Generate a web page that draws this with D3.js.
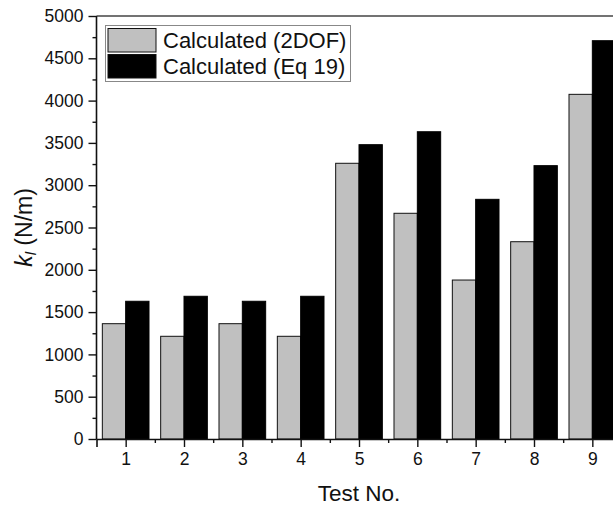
<!DOCTYPE html>
<html>
<head>
<meta charset="utf-8">
<script src="https://cdn.jsdelivr.net/npm/d3@7"></script>
<style>
    body { margin: 0; background: #fff; overflow: hidden; }
    svg { display: block; font-family: "Liberation Sans", Arial, sans-serif; }
</style>
</head>
<body>
<svg id="chart"></svg>
<script>
const tests = [1, 2, 3, 4, 5, 6, 7, 8, 9];
const calc2DOF = [1363, 1214, 1363, 1214, 3259, 2668, 1879, 2332, 4074];
const calcEq19 = [1628, 1687, 1628, 1687, 3479, 3632, 2833, 3231, 4708];
const yTicks = [0, 500, 1000, 1500, 2000, 2500, 3000, 3500, 4000, 4500, 5000];
const seriesNames = ["Calculated (2DOF)", "Calculated (Eq 19)"];

const width = 613;
const height = 506;
const margin = { top: 16, left: 96.5 };
const plotW = 525;
const plotH = 423;

const svg = d3.select("#chart")
    .attr("width", width)
    .attr("height", height);

const xScale = d3.scaleLinear()
    .domain([0.5, 9.5])
    .range([margin.left, margin.left + plotW]);

const yScale = d3.scaleLinear()
    .domain([0, 5000])
    .range([margin.top + plotH, margin.top]);

const barW = xScale(1.4) - xScale(1);

// bars
const bars = svg.append("g");
bars.selectAll(".bar2dof")
    .data(tests)
    .enter()
    .append("rect")
    .attr("x", d => xScale(d) - barW)
    .attr("y", (d, i) => yScale(calc2DOF[i]))
    .attr("width", barW)
    .attr("height", (d, i) => yScale(0) - yScale(calc2DOF[i]))
    .attr("fill", "#c0c0c0")
    .attr("stroke", "#111")
    .attr("stroke-width", 1);

bars.selectAll(".bareq")
    .data(tests)
    .enter()
    .append("rect")
    .attr("x", d => xScale(d))
    .attr("y", (d, i) => yScale(calcEq19[i]))
    .attr("width", barW)
    .attr("height", (d, i) => yScale(0) - yScale(calcEq19[i]))
    .attr("fill", "#000")
    .attr("stroke", "#000")
    .attr("stroke-width", 1);

// top frame line
svg.append("line")
    .attr("x1", xScale(0.5)).attr("x2", xScale(9.5))
    .attr("y1", yScale(5000)).attr("y2", yScale(5000))
    .attr("stroke", "#444")
    .attr("stroke-width", 1.6);

// y axis
const yAxis = d3.axisLeft(yScale)
    .tickValues(yTicks)
    .tickSize(8)
    .tickPadding(5)
    .tickFormat(d3.format("d"));

const yG = svg.append("g")
    .attr("transform", `translate(${margin.left}, 0)`)
    .call(yAxis);

svg.append("g")
    .attr("transform", `translate(${margin.left}, 0)`)
    .call(d3.axisLeft(yScale).tickValues(d3.range(250, 5000, 500)).tickSize(4).tickFormat(""))
    .select(".domain").remove();

// x axis
const xAxis = d3.axisBottom(xScale)
    .tickValues(tests)
    .tickSize(8)
    .tickPadding(6)
    .tickFormat(d3.format("d"));

const xG = svg.append("g")
    .attr("transform", `translate(0, ${margin.top + plotH})`)
    .call(xAxis);

svg.append("g")
    .attr("transform", `translate(0, ${margin.top + plotH})`)
    .call(d3.axisBottom(xScale).tickValues(d3.range(1.5, 9.5, 1)).tickSize(4).tickFormat(""))
    .select(".domain").remove();

svg.selectAll(".domain").attr("stroke", "#111").attr("stroke-width", 1.6);
svg.selectAll(".tick line").attr("stroke", "#111").attr("stroke-width", 1.4);
svg.selectAll(".tick text")
    .attr("fill", "#111")
    .style("font-size", "17.5px")
    .style("font-family", "'Liberation Sans', Arial, sans-serif");
yG.selectAll(".domain").attr("d", `M-0,${yScale(5000)}V${yScale(0)}`);

// axis titles
svg.append("text")
    .attr("x", 359)
    .attr("y", 501)
    .attr("text-anchor", "middle")
    .style("font-size", "22.5px")
    .attr("fill", "#111")
    .text("Test No.");

const yTitle = svg.append("text")
    .attr("transform", `translate(32, ${yScale(2500)}) rotate(-90)`)
    .attr("text-anchor", "middle")
    .style("font-size", "23px")
    .attr("fill", "#111");
yTitle.append("tspan").style("font-style", "italic").text("k");
yTitle.append("tspan").style("font-style", "italic").style("font-size", "15px")
    .attr("baseline-shift", "-25%").text("l");
yTitle.append("tspan").text(" (N/m)");

// legend
const legend = svg.append("g");
legend.append("rect")
    .attr("x", 105.5).attr("y", 25.5)
    .attr("width", 245).attr("height", 56)
    .attr("fill", "#fff")
    .attr("stroke", "#888")
    .attr("stroke-width", 1);

const fills = ["#c0c0c0", "#000"];
seriesNames.forEach((name, i) => {
    legend.append("rect")
        .attr("x", 108).attr("y", 28.5 + i * 26)
        .attr("width", 48).attr("height", 23.5)
        .attr("fill", fills[i])
        .attr("stroke", "#111")
        .attr("stroke-width", 1);
    legend.append("text")
        .attr("x", 163).attr("y", 48 + i * 26)
        .style("font-size", "22px")
        .attr("fill", "#111")
        .text(name);
});
</script>
</body>
</html>
